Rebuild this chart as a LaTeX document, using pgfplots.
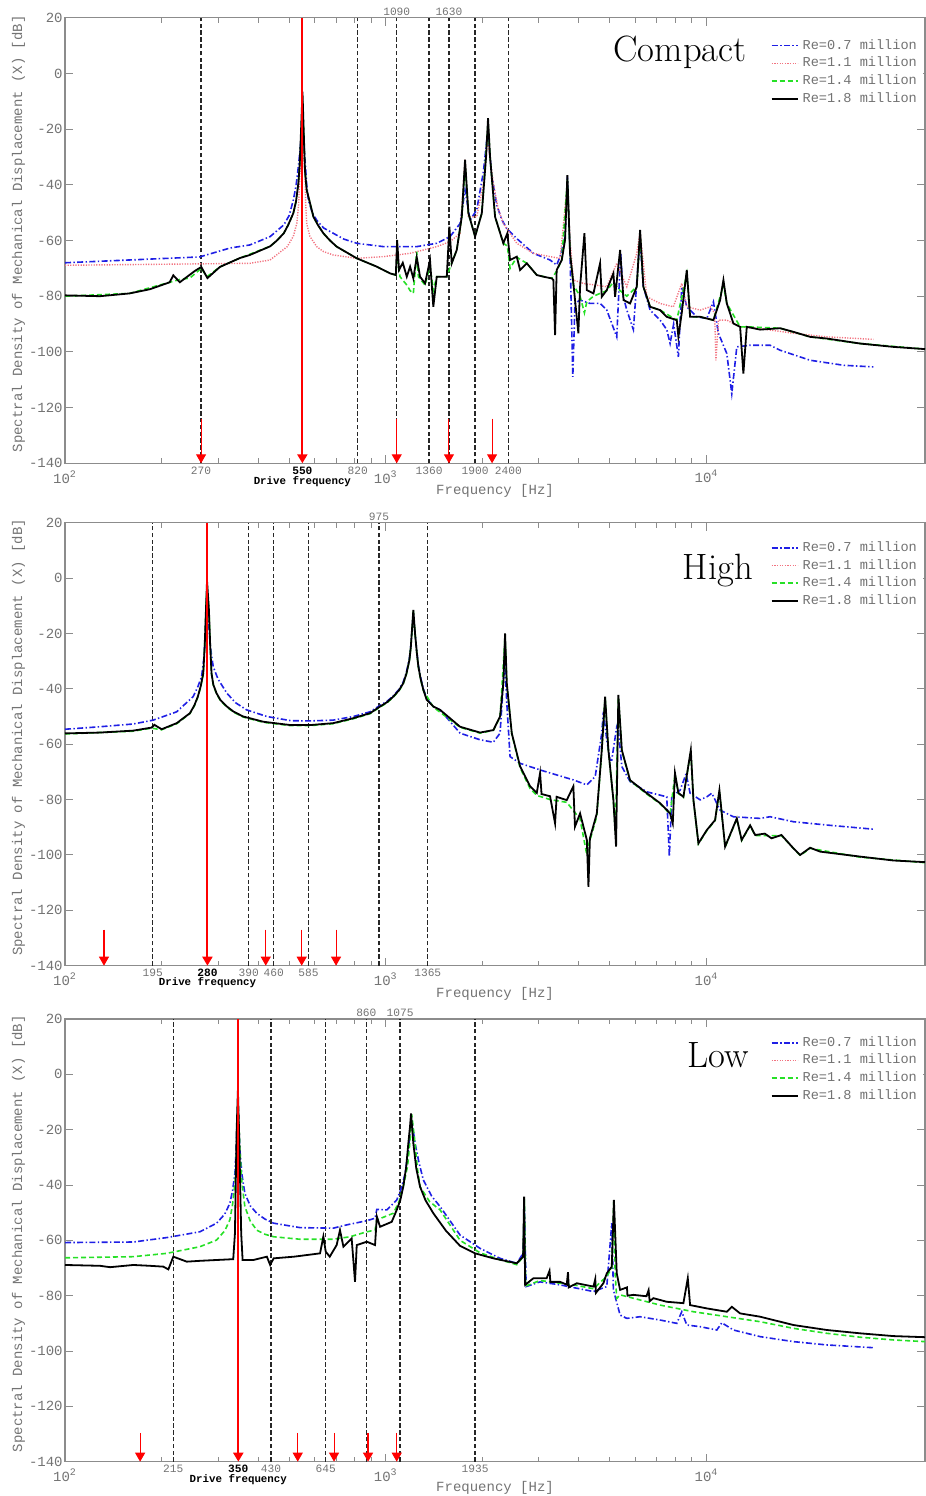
\documentclass[border=0pt]{standalone}
\usepackage{pgfplots}
\pgfplotsset{compat=1.18}
\usepackage{fontspec}
\usetikzlibrary{arrows.meta}
\newfontfamily\lmono{Liberation Mono}
\newcommand{\tickfont}{\fontsize{7}{8}\selectfont\lmono}
\newcommand{\smallfont}{\fontsize{5.6}{6.5}\selectfont\lmono}
\newcommand{\bfsmall}{\fontsize{5.4}{6.5}\selectfont\lmono\bfseries}
\newcommand{\legfont}{\fontsize{6.8}{7.6}\selectfont\lmono}
\definecolor{axgray}{gray}{0.55}
\definecolor{txtgray}{gray}{0.45}
\definecolor{mblue}{rgb}{0.12,0.12,0.9}
\definecolor{mred}{rgb}{0.95,0.45,0.5}
\definecolor{mgreen}{rgb}{0.15,0.88,0.15}
\tikzset{
 vdash/.style={black!85, line width=0.7pt, dash pattern=on 2.2pt off 1.2pt},
 rarrow/.style={red, line width=0.55pt, -{Triangle[width=5pt,length=4.5pt]}},
 drive/.style={red, line width=1pt, -{Triangle[width=5pt,length=4.5pt]}},
 s07/.style={mblue, line width=0.8pt, dash pattern=on 3pt off 1.2pt on 0.7pt off 1.2pt},
 s11/.style={mred, line width=0.7pt, dash pattern=on 0.6pt off 0.7pt},
 s14/.style={mgreen, line width=0.8pt, dash pattern=on 2.5pt off 1.5pt},
 s18/.style={black, line width=0.9pt},
}
\newcommand{\vdl}[1]{\addplot[vdash, forget plot] coordinates {(#1,-140) (#1,20)};}
\newcommand{\rarr}[2]{\addplot[rarrow, forget plot] coordinates {(#1,#2) (#1,-140)};}
\begin{document}
\begin{tikzpicture}
\useasboundingbox (0,0) rectangle (463pt,748pt);
% ---------------- Compact ----------------
\begin{axis}[xmode=log, xmin=100, xmax=48000, ymin=-140, ymax=20,
  scale only axis, width=430pt, clip=false,
  at={(32.5pt,516.35pt)}, anchor=south west, height=222.8pt,
  ytick={-140,-120,...,20}, yticklabels={-140,-120,-100,-80,-60,-40,-20,0,20},
  xtick={100,1000,10000}, xticklabels={10\textsuperscript{2},10\textsuperscript{3},10\textsuperscript{4}},
  tick align=inside, axis line style={draw=axgray, line width=0.6pt},
  every tick/.style={axgray, line width=0.5pt},
  major tick length=4pt, minor tick length=2.5pt,
  tick label style={font=\tickfont, text=txtgray},
  yticklabel style={inner sep=1pt},
  extra x tick style={major tick length=0pt, tick label style={font=\smallfont, text=txtgray, inner sep=1.5pt}},
  ylabel={Spectral Density of Mechanical Displacement (X) [dB]},
  ylabel style={at={(axis description cs:-0.054,0.515)}, anchor=center, font=\tickfont, text=txtgray},
  xlabel={Frequency [Hz]},
  xlabel style={at={(axis description cs:0.5,-0.063)}, anchor=center, font=\tickfont, text=txtgray},
  legend style={at={(0.998,0.966)}, anchor=north east, font=\legfont, text=txtgray, draw=none, fill=white, inner sep=1pt, cells={anchor=west}, row sep=-1.6pt},
  legend image code/.code={\draw[#1] (0pt,0pt) -- (13pt,0pt);},
  extra x ticks={265.6,549.6,818,1365,1899,2412},
  extra x tick labels={270,{\color{black}\bfseries 550},820,1360,1900,2400}]
\vdl{265.6}\vdl{818}\vdl{1082}\vdl{1365}\vdl{1574}\vdl{1899}\vdl{2412}
\addplot[s07] coordinates {(100,-68) (263,-65.9) (327,-62.7) (377,-61.6) (436,-58.6) (481,-54.4) (500,-51) (515,-45.5) (525,-40.5) (534,-33.5) (541,-27) (548,-20) (552,-20) (557,-27) (562,-33.5) (567,-40) (574,-45.5) (590,-50) (609,-52.7) (640,-55.5) (686,-57.4) (740,-59.5) (812,-61) (983,-62.2) (1249,-62.2) (1442,-61) (1587,-58.6) (1705,-53.9) (1767,-41.9) (1832,-52.7) (1922,-49) (2016,-35.3) (2065,-23.9) (2084,-22) (2140,-36.5) (2219,-47.3) (2300,-52.5) (2384,-55.7) (2561,-59.3) (2886,-64.6) (3253,-67) (3411,-68.8) (3495,-65.8) (3623,-58.6) (3684,-37) (3755,-64.6) (3830,-109) (3890,-82.6) (4035,-81.4) (4335,-82.6) (4658,-82.6) (4888,-85) (5250,-94.6) (5400,-64.6) (5500,-80) (5643,-85) (5916,-92) (6132,-67) (6208,-59.8) (6356,-76.6) (6670,-85) (7167,-88.6) (7518,-92) (7701,-97) (7900,-90) (8172,-101.8) (8373,-76.6) (8680,-83.8) (9329,-87.4) (10023,-88) (10508,-82) (10892,-93.3) (11570,-100.6) (11990,-115) (12430,-98.2) (13677,-97.6) (15790,-97.6) (16965,-99.4) (21040,-103) (26730,-104.8) (33140,-105.4)};
\addlegendentry{Re=0.7 million}
\addplot[s11] coordinates {(100,-68.9) (377,-68.2) (436,-67) (493,-62.2) (515,-58.5) (528,-53.9) (535,-47) (540,-35.9) (545,-30) (549,-25) (551,-25) (555,-30) (560,-35.9) (563,-47) (567,-53.9) (580,-58.5) (609,-62.2) (640,-64) (686,-65.2) (812,-66.4) (983,-65.8) (1191,-64.6) (1442,-62.2) (1587,-60.4) (1705,-57.4) (1767,-31) (1810,-51.5) (1922,-51.5) (2016,-39.5) (2075,-23.9) (2165,-39.5) (2240,-48.5) (2326,-53.9) (2561,-61) (2886,-64.6) (3253,-65.8) (3495,-66.4) (3684,-40) (3755,-60) (3846,-74.2) (4130,-75.4) (4888,-76.6) (5250,-68.2) (5643,-76.6) (6062,-64.6) (6208,-57) (6513,-80.2) (7167,-82.6) (7882,-83.8) (8373,-75.4) (8680,-83.8) (9551,-85) (10262,-83.8) (10600,-86) (10700,-103) (10900,-88.6) (11570,-88.6) (12729,-91) (14350,-91.5) (18660,-93.3) (23720,-94.6) (33140,-95.5)};
\addlegendentry{Re=1.1 million}
\addplot[s14] coordinates {(100,-80) (159,-79) (212,-75) (228,-74) (245,-73.5) (266,-70) (277,-73) (304,-69.5) (351,-66.3) (436,-62.1) (458,-60) (481,-57.4) (496,-54.5) (515,-50.2) (525,-46) (534,-39.5) (539,-33) (544,-23.9) (550,-10) (556,-23.9) (560,-35) (567,-41.9) (579,-46) (595,-51.5) (615,-54.5) (639,-57.4) (670,-60) (703,-62.2) (812,-66.4) (938,-69.4) (1031,-71.8) (1075,-72.4) (1085,-66) (1108,-73) (1163,-76) (1191,-78) (1219,-79) (1249,-64) (1264,-73) (1326,-76) (1374,-69) (1407,-78) (1442,-73) (1550,-73) (1606,-68) (1665,-63.4) (1726,-51.5) (1767,-33) (1810,-50.2) (1899,-58.6) (1993,-50.2) (2084,-18) (2114,-29.8) (2192,-51.5) (2326,-61) (2394,-62) (2441,-70) (2561,-66) (2753,-68.2) (2957,-72.4) (3293,-73.6) (3411,-71) (3538,-67) (3684,-38) (3755,-64.6) (3846,-76) (4035,-80) (4163,-86) (4236,-82) (4442,-80) (4658,-79) (4888,-78) (5125,-75) (5378,-78) (5643,-80) (6062,-76.6) (6208,-58) (6356,-76.6) (6670,-83.8) (7167,-85) (8078,-88.6) (8680,-72) (8890,-87.4) (9551,-87.4) (10508,-88.6) (11291,-76) (11570,-82.6) (12729,-91) (13353,-91) (16965,-91.5) (21040,-94.6) (30130,-97) (48000,-99)};
\addlegendentry{Re=1.4 million}
\addplot[s18] coordinates {(100,-79.7) (128.6,-80) (159,-79) (184,-77.5) (212,-75) (217.6,-72.5) (228,-75) (253.5,-71) (266,-69.5) (278,-73.5) (304,-69.5) (351,-66.3) (377,-65.2) (436,-62.1) (458,-60) (481,-57.4) (496,-54.5) (515,-50.2) (525,-46) (534,-39.5) (539,-33) (543,-23.9) (550,-6.6) (556,-23.9) (560,-35) (567,-41.9) (579,-46) (595,-51.5) (615,-54.5) (639,-57.4) (670,-60) (703,-62.2) (812,-66.4) (938,-69.4) (1031,-71.8) (1075,-72.4) (1085,-59.8) (1100,-70.6) (1130,-68) (1163,-73) (1191,-69.4) (1219,-73.6) (1249,-66) (1279,-73) (1326,-75.4) (1374,-67) (1407,-83.8) (1442,-73) (1550,-73) (1579,-55) (1606,-68.2) (1665,-63.4) (1726,-51.5) (1767,-31) (1810,-50.2) (1899,-58.6) (1993,-50.2) (2055,-29.8) (2084,-16.1) (2114,-29.8) (2192,-51.5) (2326,-61) (2394,-57.4) (2441,-67) (2561,-65.8) (2623,-70.6) (2753,-68.2) (2957,-72.4) (3100,-73) (3293,-73.6) (3331,-74.2) (3372,-94) (3411,-70.6) (3538,-67) (3623,-59.8) (3684,-36.5) (3755,-64.6) (3846,-75.4) (3986,-93.3) (4035,-76.6) (4163,-57.4) (4236,-77.8) (4442,-79) (4658,-68.2) (4715,-80.2) (4888,-77.8) (5125,-71.8) (5188,-80.2) (5378,-63.4) (5512,-81.4) (5778,-82.6) (6062,-76.6) (6208,-56.2) (6356,-76.6) (6670,-83.8) (7167,-85) (7518,-87.4) (8078,-88.6) (8172,-94.6) (8373,-86) (8680,-70.6) (8890,-87.4) (9551,-87.4) (10508,-88.6) (11026,-81.4) (11291,-74.2) (11570,-82.6) (12130,-89.8) (12729,-91) (13030,-107.8) (13353,-91) (14695,-92) (16965,-91.5) (18660,-92.8) (21040,-94.6) (23720,-95.2) (30130,-97) (38260,-98.2) (48000,-99)};
\addlegendentry{Re=1.8 million}
\addplot[drive, forget plot] coordinates {(549.6,20) (549.6,-140)};
\rarr{265.6}{-124}\rarr{1082}{-124}\rarr{1574}{-124}\rarr{2145}{-124}
\node[font=\bfsmall] at (axis cs:549.6,-140) [yshift=-9pt] {Drive frequency};
\node[font=\smallfont, text=txtgray, anchor=south, inner sep=1pt] at (axis cs:1082,20) {1090};
\node[font=\smallfont, text=txtgray, anchor=south, inner sep=1pt] at (axis cs:1574,20) {1630};
\node[font=\fontsize{18.3}{20}\selectfont] at (rel axis cs:0.715,0.923) {Compact};
\end{axis}
% ---------------- High ----------------
\begin{axis}[xmode=log, xmin=100, xmax=48000, ymin=-140, ymax=20,
  scale only axis, width=430pt, clip=false,
  at={(32.5pt,265.15pt)}, anchor=south west, height=221.5pt,
  ytick={-140,-120,...,20}, yticklabels={-140,-120,-100,-80,-60,-40,-20,0,20},
  xtick={100,1000,10000}, xticklabels={10\textsuperscript{2},10\textsuperscript{3},10\textsuperscript{4}},
  tick align=inside, axis line style={draw=axgray, line width=0.6pt},
  every tick/.style={axgray, line width=0.5pt},
  major tick length=4pt, minor tick length=2.5pt,
  tick label style={font=\tickfont, text=txtgray},
  yticklabel style={inner sep=1pt},
  extra x tick style={major tick length=0pt, tick label style={font=\smallfont, text=txtgray, inner sep=1.5pt}},
  ylabel={Spectral Density of Mechanical Displacement (X) [dB]},
  ylabel style={at={(axis description cs:-0.054,0.515)}, anchor=center, font=\tickfont, text=txtgray},
  xlabel={Frequency [Hz]},
  xlabel style={at={(axis description cs:0.5,-0.063)}, anchor=center, font=\tickfont, text=txtgray},
  legend style={at={(0.998,0.972)}, anchor=north east, font=\legfont, text=txtgray, draw=none, fill=white, inner sep=1pt, cells={anchor=west}, row sep=-1.6pt},
  legend image code/.code={\draw[#1] (0pt,0pt) -- (13pt,0pt);},
  extra x ticks={187.7,278,374,447.5,574,1352},
  extra x tick labels={195,{\color{black}\bfseries 280},390,460,585,1365}]
\vdl{187.7}\vdl{374}\vdl{447.5}\vdl{574}\vdl{953}\vdl{1352}
\addplot[s07] coordinates {(100,-54.6) (128.6,-53.7) (163.3,-52.7) (188.4,-51.3) (223,-48.3) (250.9,-42.8) (259,-39.5) (266.6,-35.6) (271,-29) (274,-20) (277.2,-4) (280,-15) (284,-25) (289.8,-32) (300,-36.5) (319.8,-41.6) (340,-45) (368.3,-47.6) (426,-50) (505,-51.5) (581,-51.6) (686,-51.3) (793,-50) (893,-48.3) (960,-46) (1010,-44.5) (1056,-42.5) (1100,-40.2) (1134,-37.5) (1160,-34) (1185,-29) (1197,-24.5) (1219,-13) (1234,-20) (1250,-26.5) (1264,-31.5) (1285,-36) (1310,-40) (1342,-43.5) (1407,-46.4) (1477,-47.6) (1705,-56) (1968,-58.4) (2165,-59.3) (2272,-56) (2326,-38) (2345,-28) (2384,-45) (2441,-64.5) (2623,-66.9) (3028,-69.3) (3411,-71.1) (3846,-72.9) (4236,-74.7) (4498,-71.7) (4715,-56) (4770,-48.3) (4888,-58.5) (5005,-65.7) (5066,-65.7) (5250,-53.7) (5289,-52.5) (5445,-68.1) (5778,-73.5) (6513,-77.2) (7518,-79) (7660,-100.6) (7793,-79) (8274,-76.6) (8637,-70.7) (8890,-77.7) (9551,-80.1) (10023,-79) (10388,-77.7) (11026,-83.8) (12130,-86.2) (14695,-86.8) (15790,-86.2) (18660,-88) (23720,-89.2) (33140,-90.7)};
\addlegendentry{Re=0.7 million}
\addlegendimage{s11}
\addlegendentry{Re=1.1 million}
\addplot[s14] coordinates {(100,-56.3) (163,-55.3) (186,-54.2) (200,-54.8) (223,-52.6) (245,-49) (253,-46.2) (259.5,-43) (265,-39.2) (269.8,-34.6) (272.5,-25) (274.6,-14) (277.2,-2) (281,-11.5) (283.5,-24) (286.3,-34.6) (290,-38.7) (296.8,-41.8) (305,-44.2) (319.8,-46.6) (335,-48.4) (359.4,-50.2) (415.6,-52.1) (505,-53.3) (581,-53.3) (686,-52.6) (793,-50.8) (893,-49) (960,-46.6) (1010,-45) (1056,-43) (1100,-40.7) (1134,-38.2) (1160,-34.7) (1185,-29.8) (1197,-25.2) (1219,-12) (1234,-20) (1250,-27.2) (1264,-32.2) (1285,-36.7) (1310,-40.6) (1407,-46.6) (1705,-53.9) (1968,-56) (2165,-55) (2272,-50.2) (2355,-21) (2384,-38) (2471,-56.2) (2623,-68.5) (2818,-76) (2957,-78.5) (3253,-80) (3667,-81) (4035,-87) (4236,-100) (4300,-96) (4550,-86) (4715,-62.3) (4829,-43) (4944,-62.3) (5125,-80.3) (5200,-92) (5311,-43) (5445,-62.3) (5778,-73.2) (6513,-78) (7167,-81.5) (7701,-85.2) (7975,-71) (8172,-77.8) (8472,-79.2) (8935,-62.5) (9104,-80.3) (9437,-96) (10023,-91.2) (10636,-87.6) (10971,-77) (11429,-97.2) (12430,-87) (12870,-94.8) (13677,-89.5) (14180,-93) (17130,-93) (19585,-100.2) (21040,-97.6) (30130,-100.8) (48000,-102.8)};
\addlegendentry{Re=1.4 million}
\addplot[s18] coordinates {(100,-56.1) (128.6,-55.8) (163.3,-55.1) (186.3,-54) (190,-53) (200.1,-54.6) (223,-52.4) (245.2,-48.8) (253,-46) (259.5,-42.8) (265,-39) (269.8,-34.4) (272.5,-25) (274.6,-14) (277.2,-1) (281,-11.5) (283.5,-24) (286.3,-34.4) (290,-38.5) (296.8,-41.6) (305,-44) (319.8,-46.4) (335,-48.2) (359.4,-50) (415.6,-51.9) (505,-53.1) (581,-53.1) (686,-52.4) (793,-50.6) (893,-48.8) (960,-46.4) (1010,-44.8) (1056,-42.8) (1100,-40.5) (1134,-38) (1160,-34.5) (1185,-29.6) (1197,-25) (1205,-20) (1219,-11.5) (1234,-20) (1250,-27) (1264,-32) (1285,-36.5) (1310,-40.4) (1342,-44) (1407,-46.4) (1477,-47.6) (1705,-53.7) (1968,-55.8) (2165,-54.9) (2272,-50) (2326,-38) (2355,-20) (2384,-38) (2471,-56) (2623,-68) (2818,-75.2) (2957,-77.6) (3028,-70.4) (3060,-78) (3253,-78.8) (3372,-88.6) (3410,-79) (3667,-80.2) (3846,-75.2) (3890,-89.8) (4035,-85) (4236,-94.6) (4285,-111.5) (4330,-94) (4550,-85) (4715,-62.1) (4829,-42.8) (4944,-62.1) (5125,-80.1) (5225,-97) (5311,-42.2) (5445,-62.1) (5778,-73) (6513,-77.7) (7167,-81.3) (7701,-85) (7850,-88.6) (7975,-70.4) (8172,-77.6) (8472,-79) (8935,-62.1) (9104,-80.1) (9437,-95.8) (10023,-91) (10636,-87.4) (10971,-76.6) (11429,-97) (12430,-86.8) (12870,-94.6) (13677,-89.3) (14180,-92.8) (15200,-92.3) (15950,-94) (17130,-92.8) (18660,-97.6) (19585,-100) (21040,-97.4) (22610,-98.8) (30130,-100.6) (38260,-102) (48000,-102.6)};
\addlegendentry{Re=1.8 million}
\addplot[drive, forget plot] coordinates {(278,20) (278,-140)};
\rarr{132.3}{-127}\rarr{422.6}{-127}\rarr{547}{-127}\rarr{700}{-127}
\node[font=\bfsmall] at (axis cs:278,-140) [yshift=-8.5pt] {Drive frequency};
\node[font=\smallfont, text=txtgray, anchor=south, inner sep=1pt] at (axis cs:953,20) {975};
\node[font=\fontsize{18.3}{20}\selectfont] at (rel axis cs:0.759,0.891) {High};
\end{axis}
% ---------------- Low ----------------
\begin{axis}[xmode=log, xmin=100, xmax=48000, ymin=-140, ymax=20,
  scale only axis, width=430pt, clip=false,
  at={(32.5pt,17.15pt)}, anchor=south west, height=221.35pt,
  ytick={-140,-120,...,20}, yticklabels={-140,-120,-100,-80,-60,-40,-20,0,20},
  xtick={100,1000,10000}, xticklabels={10\textsuperscript{2},10\textsuperscript{3},10\textsuperscript{4}},
  tick align=inside, axis line style={draw=axgray, line width=0.6pt},
  every tick/.style={axgray, line width=0.5pt},
  major tick length=4pt, minor tick length=2.5pt,
  tick label style={font=\tickfont, text=txtgray},
  yticklabel style={inner sep=1pt},
  extra x tick style={major tick length=0pt, tick label style={font=\smallfont, text=txtgray, inner sep=1.5pt}},
  ylabel={Spectral Density of Mechanical Displacement (X) [dB]},
  ylabel style={at={(axis description cs:-0.054,0.515)}, anchor=center, font=\tickfont, text=txtgray},
  xlabel={Frequency [Hz]},
  xlabel style={at={(axis description cs:0.5,-0.059)}, anchor=center, font=\tickfont, text=txtgray},
  legend style={at={(0.998,0.975)}, anchor=north east, font=\legfont, text=txtgray, draw=none, fill=white, inner sep=1pt, cells={anchor=west}, row sep=-1.6pt},
  legend image code/.code={\draw[#1] (0pt,0pt) -- (13pt,0pt);},
  extra x ticks={217.6,347,438.8,650,1899},
  extra x tick labels={215,{\color{black}\bfseries 350},430,645,1935}]
\vdl{217.6}\vdl{438.8}\vdl{650}\vdl{870}\vdl{1108}\vdl{1899}
\addplot[s07] coordinates {(100,-60.8) (163.3,-60.6) (207.6,-59) (263.4,-56.9) (296.8,-53.8) (315,-50.5) (326.6,-46.6) (333,-42) (338.7,-35.8) (342,-26) (344.2,-15.3) (346.5,-12) (351,-27.3) (356,-36) (363.7,-43) (378,-47.5) (396,-50.2) (420,-52.3) (447.1,-53.8) (540,-55.4) (686,-55.6) (756,-54.4) (873,-52.9) (926,-52) (938,-48.8) (1007,-49) (1082,-45.4) (1120,-41) (1149,-35.8) (1175,-28) (1191,-21.3) (1205,-16.5) (1234,-24.9) (1270,-32) (1310,-38.2) (1390,-44) (1477,-47.8) (1705,-58.1) (1968,-62.9) (2272,-66.5) (2561,-68.3) (2680,-64.7) (2705,-47.8) (2740,-76.7) (3028,-75) (3495,-76.1) (3941,-77.3) (4442,-78.5) (4888,-76.7) (5066,-53.8) (5125,-77.9) (5378,-87) (5643,-88.2) (6208,-87.6) (7167,-88.8) (8078,-90) (8373,-85.8) (8680,-90.6) (9551,-91.2) (10767,-92.4) (11162,-89.8) (12130,-92.4) (14695,-94.8) (18660,-96.6) (23720,-97.8) (33140,-98.8)};
\addlegendentry{Re=0.7 million}
\addlegendimage{s11}
\addlegendentry{Re=1.1 million}
\addplot[s14] coordinates {(100,-66.3) (163.3,-65.9) (207.6,-64.7) (263.4,-62.3) (296.8,-59.9) (315,-56.5) (326.6,-52.6) (333,-47) (338.7,-39.4) (342,-30) (344.2,-18.9) (346,-9.3) (351,-27.3) (356,-39) (363.7,-47.8) (378,-53) (396,-56.3) (420,-57.8) (447.1,-58.7) (540,-59.6) (686,-59.6) (774,-58.7) (873,-56.9) (926,-56.3) (938,-52.6) (1056,-50.2) (1100,-46) (1134,-40.6) (1170,-33) (1191,-23.7) (1205,-14.5) (1234,-25) (1255,-34) (1279,-40.6) (1370,-46) (1477,-49) (1705,-60) (1968,-64.5) (2272,-67) (2561,-68.8) (2680,-66) (2705,-45) (2730,-76.5) (3028,-74.5) (3495,-75.5) (3941,-76.3) (4442,-77.5) (4888,-73) (5066,-70) (5144,-45) (5190,-72) (5250,-81) (5378,-79.7) (7167,-83.4) (9104,-85.8) (11570,-87.6) (14695,-89.4) (18660,-91.8) (23720,-93.6) (30130,-95) (38260,-96) (48000,-96.6)};
\addlegendentry{Re=1.4 million}
\addplot[s18] coordinates {(100,-68.9) (128.6,-69.2) (138.2,-69.7) (163.3,-68.9) (184,-69.2) (202.5,-69.5) (210,-70.5) (217.6,-65.9) (239.7,-67.7) (263.4,-67.4) (296.8,-67.1) (334.6,-66.8) (338.7,-57.5) (342.7,-21.3) (346,-5.7) (349,-21.3) (354.3,-57.5) (357.9,-67.1) (386.5,-67.1) (426,-65.9) (436.2,-68.9) (447.1,-66.5) (517.6,-65.9) (624,-64.7) (639,-58.6) (650,-64.1) (669,-65.9) (703,-61.7) (720,-56.3) (738,-62.3) (783,-59.3) (802,-75) (812,-61.7) (873,-60.5) (926,-61.7) (938,-51.4) (960,-55.1) (1044,-53.3) (1082,-49) (1110,-45.5) (1134,-40.6) (1158,-33.5) (1176,-24.9) (1190,-19) (1199,-14.1) (1208,-19) (1219,-24.9) (1245,-34) (1279,-40.6) (1330,-45.5) (1407,-50.2) (1540,-56.5) (1705,-62) (1899,-64.7) (2165,-66.5) (2561,-68.3) (2680,-65.9) (2700,-44.2) (2720,-76.1) (2886,-73.7) (3174,-73.7) (3240,-71) (3260,-75) (3495,-75) (3667,-76) (3700,-71.5) (3720,-77) (3941,-75.5) (4442,-76.7) (4500,-74) (4520,-79) (4770,-75.5) (4888,-71.9) (5066,-69.5) (5144,-45.4) (5250,-71.9) (5378,-77.9) (5650,-77) (5670,-80) (5916,-79.7) (6500,-80.2) (6600,-78) (6650,-82) (6830,-80.9) (7518,-82.2) (8472,-82.7) (8743,-73.7) (8890,-83.4) (10023,-84.6) (11570,-85.8) (11990,-84) (12729,-86.4) (14695,-87.6) (18660,-90.6) (23720,-92.4) (30130,-93.6) (38260,-94.6) (48000,-95)};
\addlegendentry{Re=1.8 million}
\addplot[drive, forget plot] coordinates {(347,20) (347,-140)};
\rarr{171.5}{-129.6}\rarr{531.6}{-129.6}\rarr{690}{-129.6}\rarr{880.6}{-129.6}\rarr{1082}{-129.6}
\node[font=\bfsmall] at (axis cs:347,-140) [yshift=-9pt] {Drive frequency};
\node[font=\smallfont, text=txtgray, anchor=south, inner sep=1pt] at (axis cs:870,20) {860};
\node[font=\smallfont, text=txtgray, anchor=south, inner sep=1pt] at (axis cs:1108,20) {1075};
\node[font=\fontsize{18.3}{20}\selectfont] at (rel axis cs:0.759,0.919) {Low};
\end{axis}
\end{tikzpicture}
\end{document}
